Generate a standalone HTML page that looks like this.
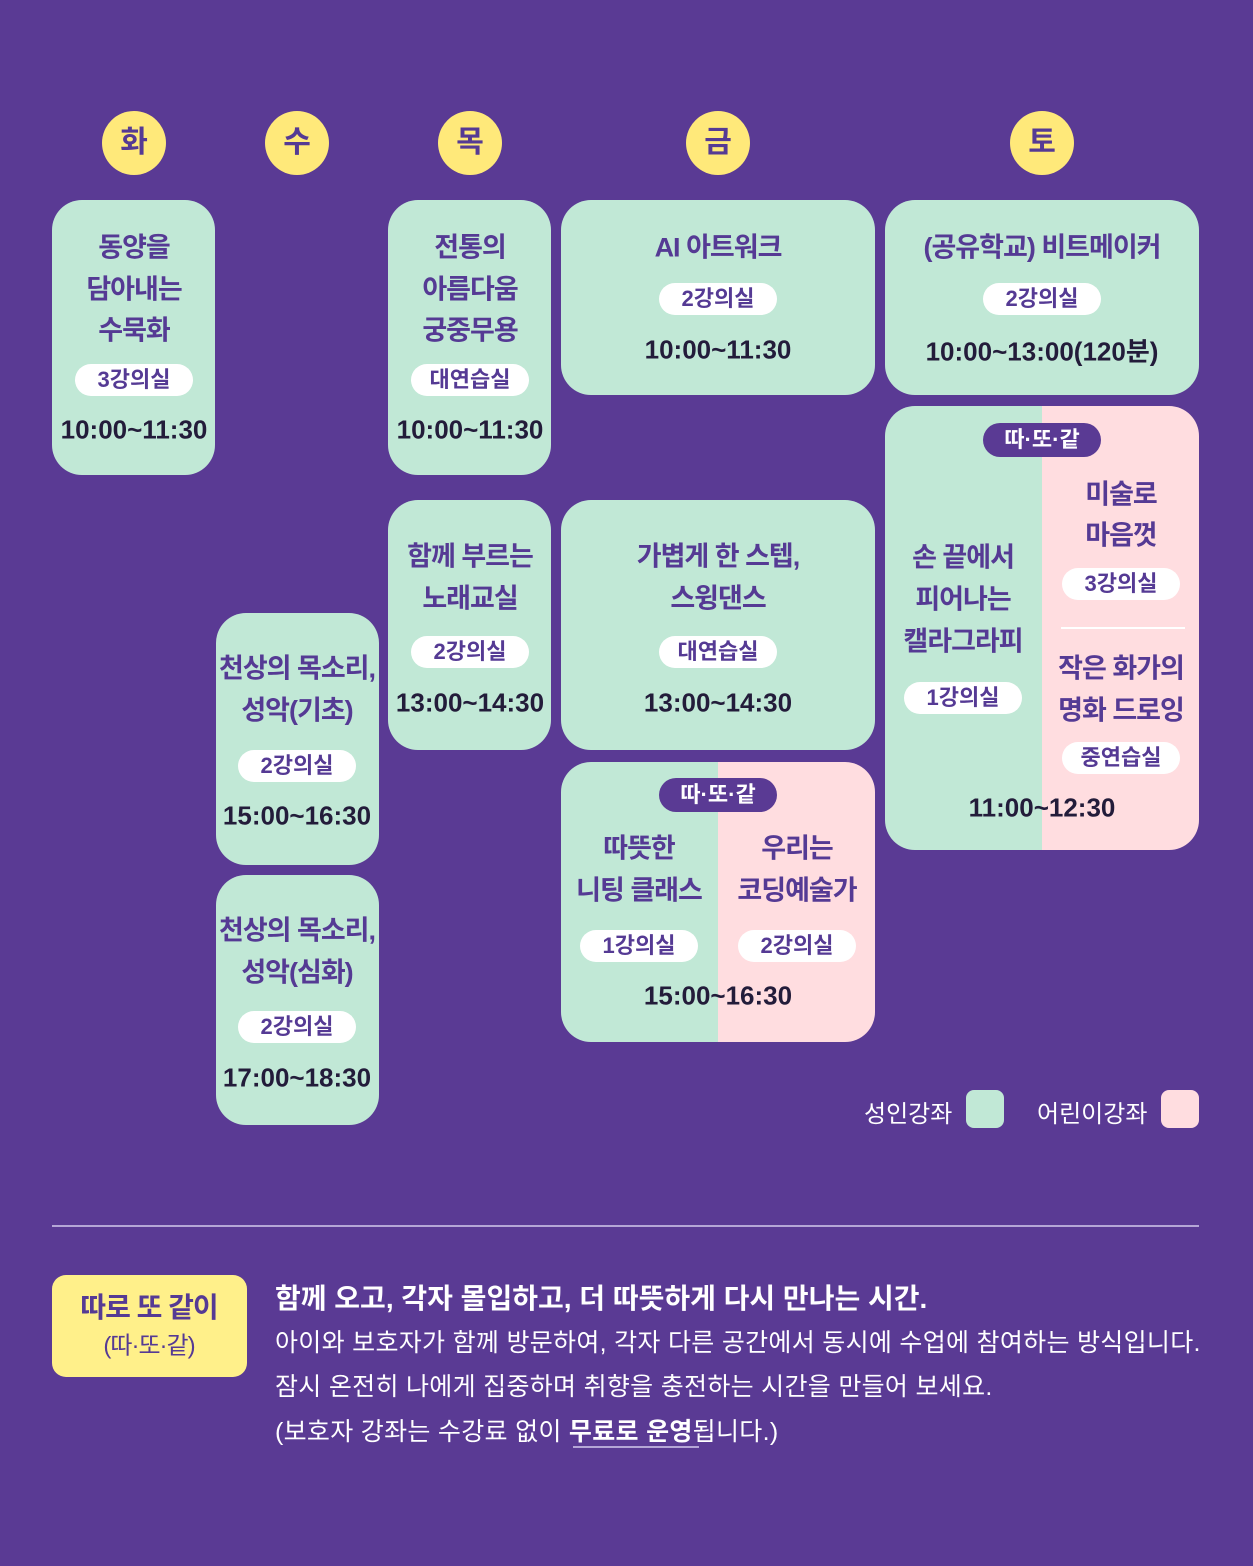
<!DOCTYPE html>
<html><head><meta charset="utf-8"><style>
body{margin:0;width:1253px;height:1566px;background:#5a3a94;position:relative;overflow:hidden;font-family:"Liberation Sans","Noto Sans CJK KR",sans-serif}
.b{position:absolute;border-radius:30px;background:#c1e8d6;overflow:hidden}
.c{position:absolute;width:64px;height:64px;border-radius:50%;background:#ffe97a;color:#553a94;font-weight:700;font-size:30px;text-align:center;line-height:64px;transform:translate(-50%,-50%)}
.t{position:absolute;transform:translate(-50%,-50%);white-space:nowrap;color:#553a94;font-weight:700;font-size:27px;letter-spacing:-1px}
.p{position:absolute;transform:translate(-50%,-50%);white-space:nowrap;background:#fff;color:#553a94;font-weight:700;font-size:22px;width:118px;height:32px;line-height:32px;text-align:center;border-radius:16px}
.d{position:absolute;transform:translate(-50%,-50%);white-space:nowrap;background:#5a3a94;color:#fff;font-weight:700;font-size:22px;width:118px;height:34px;line-height:34px;text-align:center;border-radius:17px}
.m{position:absolute;transform:translate(-50%,-50%);white-space:nowrap;color:#231c3a;font-weight:700;font-size:26px;letter-spacing:0}
.w{position:absolute;white-space:nowrap;color:#fff;font-size:25px;letter-spacing:0.3px}
</style></head><body>
<div class="c" style="left:134px;top:143px">화</div>
<div class="c" style="left:297px;top:143px">수</div>
<div class="c" style="left:470px;top:143px">목</div>
<div class="c" style="left:718px;top:143px">금</div>
<div class="c" style="left:1042px;top:143px">토</div>

<div class="b" style="left:52px;top:200px;width:163px;height:275px"></div>
<div class="b" style="left:388px;top:200px;width:163px;height:275px"></div>
<div class="b" style="left:388px;top:500px;width:163px;height:250px"></div>
<div class="b" style="left:216px;top:613px;width:163px;height:252px"></div>
<div class="b" style="left:216px;top:875px;width:163px;height:250px"></div>
<div class="b" style="left:561px;top:200px;width:314px;height:195px"></div>
<div class="b" style="left:561px;top:500px;width:314px;height:250px"></div>
<div class="b" style="left:561px;top:762px;width:314px;height:280px;background:linear-gradient(90deg,#c1e8d6 50%,#ffdde0 50%)"></div>
<div class="b" style="left:885px;top:200px;width:314px;height:195px"></div>
<div class="b" style="left:885px;top:406px;width:314px;height:444px;background:linear-gradient(90deg,#c1e8d6 50%,#ffdde0 50%)"></div>

<div class="t" style="left:134px;top:245px">동양을</div>
<div class="t" style="left:134px;top:287px">담아내는</div>
<div class="t" style="left:134px;top:328px">수묵화</div>
<div class="p" style="left:134px;top:380px">3강의실</div>
<div class="m" style="left:134px;top:430px">10:00~11:30</div>

<div class="t" style="left:470px;top:245px">전통의</div>
<div class="t" style="left:470px;top:287px">아름다움</div>
<div class="t" style="left:470px;top:328px">궁중무용</div>
<div class="p" style="left:470px;top:380px">대연습실</div>
<div class="m" style="left:470px;top:430px">10:00~11:30</div>

<div class="t" style="left:470px;top:554px">함께 부르는</div>
<div class="t" style="left:470px;top:596px">노래교실</div>
<div class="p" style="left:470px;top:652px">2강의실</div>
<div class="m" style="left:470px;top:703px">13:00~14:30</div>

<div class="t" style="left:297px;top:666px">천상의 목소리,</div>
<div class="t" style="left:297px;top:708px">성악(기초)</div>
<div class="p" style="left:297px;top:766px">2강의실</div>
<div class="m" style="left:297px;top:816px">15:00~16:30</div>

<div class="t" style="left:297px;top:928px">천상의 목소리,</div>
<div class="t" style="left:297px;top:970px">성악(심화)</div>
<div class="p" style="left:297px;top:1027px">2강의실</div>
<div class="m" style="left:297px;top:1078px">17:00~18:30</div>

<div class="t" style="left:718px;top:245px">AI 아트워크</div>
<div class="p" style="left:718px;top:299px">2강의실</div>
<div class="m" style="left:718px;top:350px">10:00~11:30</div>

<div class="t" style="left:718px;top:554px">가볍게 한 스텝,</div>
<div class="t" style="left:718px;top:596px">스윙댄스</div>
<div class="p" style="left:718px;top:652px">대연습실</div>
<div class="m" style="left:718px;top:703px">13:00~14:30</div>

<div class="d" style="left:718px;top:795px">따·또·같</div>
<div class="t" style="left:639px;top:846px">따뜻한</div>
<div class="t" style="left:639px;top:888px">니팅 클래스</div>
<div class="p" style="left:639px;top:946px">1강의실</div>
<div class="t" style="left:797px;top:846px">우리는</div>
<div class="t" style="left:797px;top:888px">코딩예술가</div>
<div class="p" style="left:797px;top:946px">2강의실</div>
<div class="m" style="left:718px;top:996px">15:00~16:30</div>

<div class="t" style="left:1042px;top:245px">(공유학교) 비트메이커</div>
<div class="p" style="left:1042px;top:299px">2강의실</div>
<div class="m" style="left:1042px;top:350px">10:00~13:00(120분)</div>

<div class="d" style="left:1042px;top:440px">따·또·같</div>
<div class="t" style="left:963px;top:555px">손 끝에서</div>
<div class="t" style="left:963px;top:597px">피어나는</div>
<div class="t" style="left:963px;top:639px">캘라그라피</div>
<div class="p" style="left:963px;top:698px">1강의실</div>
<div class="t" style="left:1121px;top:492px">미술로</div>
<div class="t" style="left:1121px;top:533px">마음껏</div>
<div class="p" style="left:1121px;top:584px">3강의실</div>
<div style="position:absolute;left:1061px;top:627px;width:124px;height:2px;background:#fff"></div>
<div class="t" style="left:1121px;top:666px">작은 화가의</div>
<div class="t" style="left:1121px;top:708px">명화 드로잉</div>
<div class="p" style="left:1121px;top:758px">중연습실</div>
<div class="m" style="left:1042px;top:808px">11:00~12:30</div>

<div class="w" style="left:864px;top:1094px;font-size:24px;letter-spacing:0">성인강좌</div>
<div style="position:absolute;left:966px;top:1090px;width:38px;height:38px;border-radius:8px;background:#c1e8d6"></div>
<div class="w" style="left:1037px;top:1094px;font-size:24px;letter-spacing:0">어린이강좌</div>
<div style="position:absolute;left:1161px;top:1090px;width:38px;height:38px;border-radius:8px;background:#ffdde0"></div>

<div style="position:absolute;left:52px;top:1225px;width:1147px;height:2px;background:#b5a6d6"></div>

<div style="position:absolute;left:52px;top:1275px;width:195px;height:102px;border-radius:14px;background:#fff08a"></div>
<div class="t" style="left:149px;top:1306px;font-size:28px">따로 또 같이</div>
<div class="t" style="left:149px;top:1343px;font-size:24px;font-weight:400">(따·또·같)</div>

<div class="w" style="left:275px;top:1277px;font-size:28px;font-weight:700;letter-spacing:0">함께 오고, 각자 몰입하고, 더 따뜻하게 다시 만나는 시간.</div>
<div class="w" style="left:275px;top:1323px">아이와 보호자가 함께 방문하여, 각자 다른 공간에서 동시에 수업에 참여하는 방식입니다.</div>
<div class="w" style="left:275px;top:1367px">잠시 온전히 나에게 집중하며 취향을 충전하는 시간을 만들어 보세요.</div>
<div class="w" style="left:275px;top:1412px">(보호자 강좌는 수강료 없이 <b>무료로 운영</b>됩니다.)</div>
<div style="position:absolute;left:573px;top:1446px;width:126px;height:2px;background:#b5a6d6"></div>
</body></html>
